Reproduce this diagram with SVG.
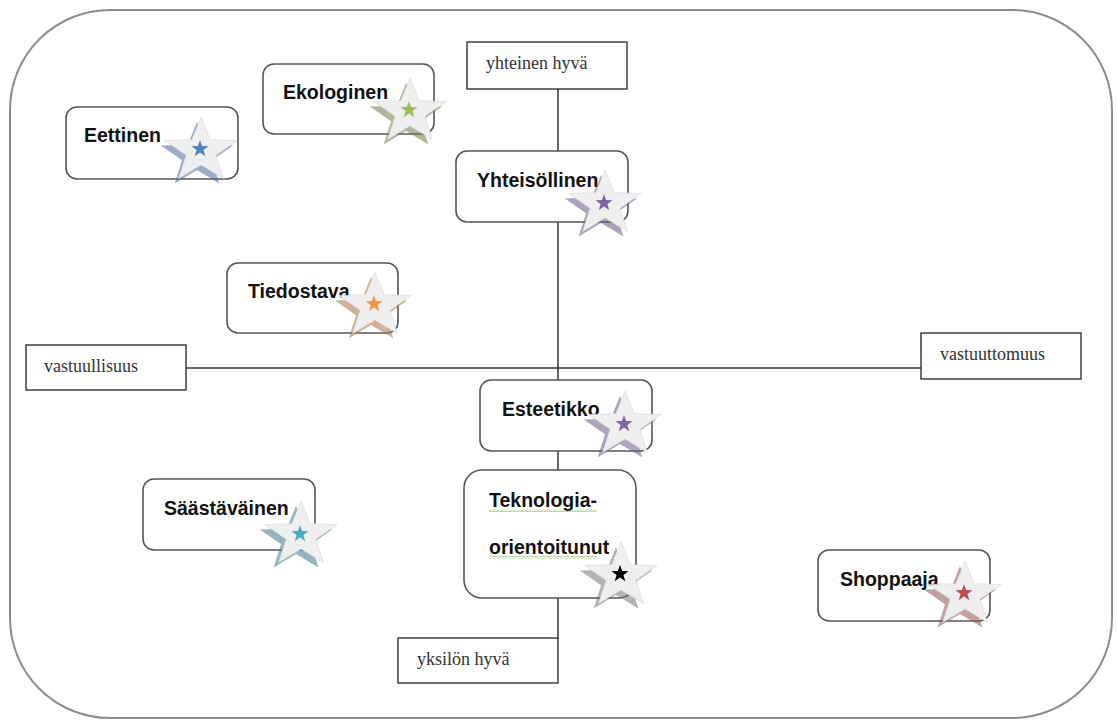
<svg xmlns="http://www.w3.org/2000/svg" xmlns:xlink="http://www.w3.org/1999/xlink" width="1117" height="722" viewBox="0 0 1117 722">
<style>
.frame{fill:#fff;stroke:#8c8c8c;stroke-width:2}
.axis{stroke:#333;stroke-width:1.5;fill:none}
.lbl{fill:#fff;stroke:#222;stroke-width:1.3}
.lt{font-family:"Liberation Serif",serif;font-size:18px;fill:#333}
.node{fill:#fff;stroke:#555;stroke-width:1.6}
.nt{font-family:"Liberation Sans",Arial,sans-serif;font-weight:bold;font-size:19.5px;fill:#111}
.big{fill:#efefef;stroke:#d8d8d8;stroke-width:0.6}
</style>
<defs>
<polygon id="bigstar" points="0,-34 8.23,-11.33 32.34,-10.51 13.31,4.33 19.98,27.51 0,14 -19.98,27.51 -13.31,4.33 -32.34,-10.51 -8.23,-11.33" transform="scale(1.12,1)"/>
<polygon id="smstar" points="0,-9 2.12,-2.91 8.56,-2.78 3.42,1.11 5.29,7.28 0,3.6 -5.29,7.28 -3.42,1.11 -8.56,-2.78 -2.12,-2.91"/>
<pattern id="wavy" width="4" height="3" patternUnits="userSpaceOnUse">
<polyline points="0,2.5 2,0.5 4,2.5" fill="none" stroke="#5db42e" stroke-width="0.9"/>
</pattern>
</defs>
<rect class="frame" x="10" y="10" width="1102" height="708" rx="100" ry="100"/>
<g id="connectors">
<line class="axis" x1="558" y1="89" x2="558" y2="638"/>
<line class="axis" x1="186" y1="368" x2="921" y2="368"/>
</g>
<g id="yhteinen-hyva">
<rect class="lbl" x="467" y="42" width="160" height="47"/>
<text class="lt" x="486" y="69">yhteinen hyvä</text>
</g>
<g id="vastuullisuus">
<rect class="lbl" x="26" y="345" width="160" height="45"/>
<text class="lt" x="44" y="372">vastuullisuus</text>
</g>
<g id="vastuuttomuus">
<rect class="lbl" x="921" y="333" width="160" height="46"/>
<text class="lt" x="940" y="360">vastuuttomuus</text>
</g>
<g id="yksilon-hyva">
<rect class="lbl" x="398" y="638" width="160" height="45"/>
<text class="lt" x="417" y="665">yksilön hyvä</text>
</g>
<g id="eettinen">
<rect class="node" x="66" y="107" width="172" height="72" rx="11"/>
<text class="nt" x="84" y="142">Eettinen</text>
<use href="#bigstar" transform="translate(197,156)" fill="#4a6a94" opacity="0.55"/>
<use href="#bigstar" class="big" transform="translate(201,151)"/>
<use href="#smstar" transform="translate(200,149)" fill="#4f81bd"/>
</g>
<g id="ekologinen">
<rect class="node" x="263" y="64" width="171" height="70" rx="11"/>
<text class="nt" x="283" y="99">Ekologinen</text>
<use href="#bigstar" transform="translate(406,117)" fill="#6f7f4a" opacity="0.55"/>
<use href="#bigstar" class="big" transform="translate(410,112)"/>
<use href="#smstar" transform="translate(409,110)" fill="#9bbb59"/>
</g>
<g id="yhteisollinen">
<rect class="node" x="456" y="151" width="172" height="71" rx="11"/>
<text class="nt" x="477" y="187">Yhteisöllinen</text>
<use href="#bigstar" transform="translate(601,209)" fill="#6b5a87" opacity="0.55"/>
<use href="#bigstar" class="big" transform="translate(605,204)"/>
<use href="#smstar" transform="translate(604,203)" fill="#8064a2"/>
</g>
<g id="tiedostava">
<rect class="node" x="227" y="263" width="171" height="70" rx="11"/>
<text class="nt" x="248" y="298">Tiedostava</text>
<use href="#bigstar" transform="translate(371,311)" fill="#b0804f" opacity="0.6"/>
<use href="#bigstar" class="big" transform="translate(375,306)"/>
<use href="#smstar" transform="translate(374,304)" fill="#f79646"/>
</g>
<g id="esteetikko">
<rect class="node" x="480" y="380" width="172" height="71" rx="11"/>
<text class="nt" x="502" y="416">Esteetikko</text>
<use href="#bigstar" transform="translate(620,430)" fill="#6b5a87" opacity="0.55"/>
<use href="#bigstar" class="big" transform="translate(625,425)"/>
<use href="#smstar" transform="translate(624,424)" fill="#8064a2"/>
</g>
<g id="teknologia-orientoitunut">
<rect class="node" x="464" y="470" width="172" height="128" rx="18"/>
<text class="nt" x="489" y="507">Teknologia-</text>
<rect x="489" y="509" width="108" height="3" fill="url(#wavy)"/>
<text class="nt" x="489" y="554">orientoitunut</text>
<rect x="489" y="556" width="108" height="3" fill="url(#wavy)"/>
<use href="#bigstar" transform="translate(616,581)" fill="#777" opacity="0.55"/>
<use href="#bigstar" class="big" transform="translate(621,576)"/>
<use href="#smstar" transform="translate(620,574)" fill="#000"/>
</g>
<g id="saastavainen">
<rect class="node" x="143" y="479" width="172" height="71" rx="11"/>
<text class="nt" x="164" y="515">Säästäväinen</text>
<use href="#bigstar" transform="translate(296,540)" fill="#4f8594" opacity="0.6"/>
<use href="#bigstar" class="big" transform="translate(301,535)"/>
<use href="#smstar" transform="translate(300,534)" fill="#4bacc6"/>
</g>
<g id="shoppaaja">
<rect class="node" x="818" y="550" width="172" height="71" rx="11"/>
<text class="nt" x="840" y="586">Shoppaaja</text>
<use href="#bigstar" transform="translate(960,600)" fill="#8f5553" opacity="0.55"/>
<use href="#bigstar" class="big" transform="translate(965,595)"/>
<use href="#smstar" transform="translate(964,593)" fill="#c0504d"/>
</g>
</svg>
